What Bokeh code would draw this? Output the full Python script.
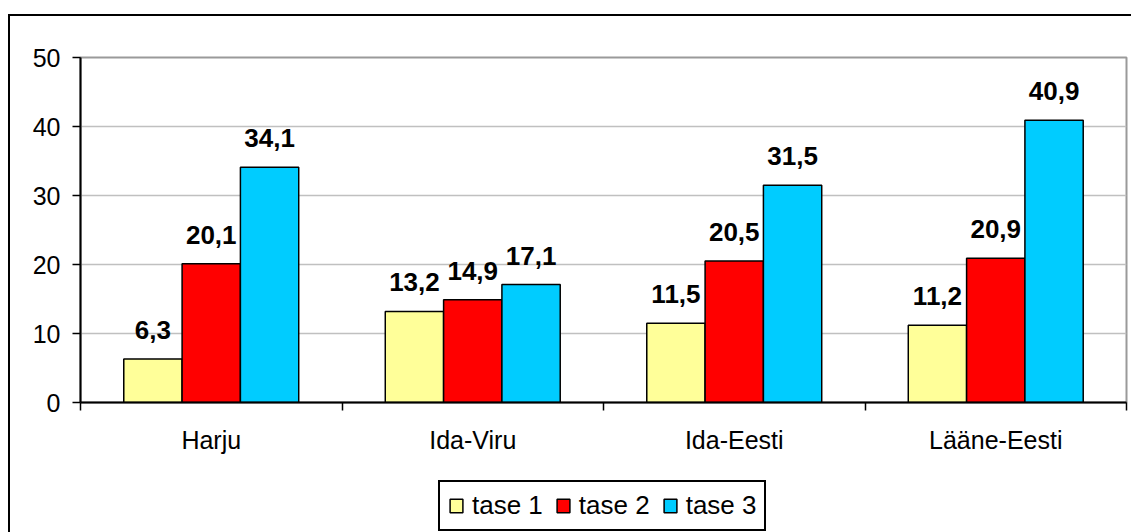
from bokeh.plotting import figure
from bokeh.layouts import column
from bokeh.models import Range1d, FixedTicker, Legend, LegendItem
from bokeh.embed import file_html
from bokeh.resources import INLINE
from bokeh.core.properties import value

categories = ["Harju", "Ida-Viru", "Ida-Eesti", "Lääne-Eesti"]
series_names = ["tase 1", "tase 2", "tase 3"]
tase1 = [6.3, 13.2, 11.5, 11.2]
tase2 = [20.1, 14.9, 20.5, 20.9]
tase3 = [34.1, 17.1, 31.5, 40.9]
series_values = [tase1, tase2, tase3]
colors = ["#FFFF99", "#FF0000", "#00CCFF"]
y_ticks = [0, 10, 20, 30, 40, 50]

FONT = "Liberation Sans"
bar_w = 0.223

# ---- main chart ----
p = figure(width=1121, height=444,
           x_range=Range1d(0, len(categories)), y_range=Range1d(0, 50),
           output_backend="svg", toolbar_location=None,
           min_border_left=70, min_border_right=5,
           min_border_top=41, min_border_bottom=58,
           background_fill_color="white", border_fill_color="white",
           outline_line_color="#9a9a9a", outline_line_width=2)

centers = [i + 0.5 for i in range(len(categories))]
bounds = list(range(len(categories) + 1))

for i, (name, vals, c) in enumerate(zip(series_names, series_values, colors)):
    xs = [cx + (i - 1) * bar_w for cx in centers]
    p.vbar(x=xs, top=vals, bottom=0, width=bar_w, fill_color=c,
           line_color="black", line_width=1.5)
    labels = [f"{v:.1f}".replace(".", ",") for v in vals]
    p.text(x=xs, y=vals, text=labels, text_align="center",
           text_baseline="alphabetic", y_offset=-29,
           text_font=value(FONT), text_font_style="bold",
           text_font_size="26px", text_color="black")

yax = p.yaxis[0]
yax.ticker = FixedTicker(ticks=y_ticks)
yax.major_tick_out = 8
yax.major_tick_in = 0
yax.minor_tick_line_color = None
yax.axis_line_width = 2
yax.axis_line_color = "black"
yax.major_tick_line_width = 1.5
yax.major_tick_line_color = "black"
yax.major_label_text_font = FONT
yax.major_label_text_font_size = "25px"
yax.major_label_text_color = "black"
yax.major_label_standoff = 12

xax = p.xaxis[0]
xax.ticker = FixedTicker(ticks=centers, minor_ticks=bounds)
xax.major_label_overrides = {c: lab for c, lab in zip(centers, categories)}
xax.major_tick_line_color = None
xax.major_tick_out = 0
xax.major_tick_in = 0
xax.minor_tick_out = 8
xax.minor_tick_in = 0
xax.minor_tick_line_color = "black"
xax.minor_tick_line_width = 1.5
xax.axis_line_width = 2
xax.axis_line_color = "black"
xax.major_label_text_font = FONT
xax.major_label_text_font_size = "25px"
xax.major_label_text_color = "black"
xax.major_label_standoff = 15

p.xgrid.visible = False
p.ygrid.grid_line_color = "#c0c0c0"
p.ygrid.grid_line_width = 1.5

# ---- legend strip ----
lg = figure(width=1121, height=72, x_range=Range1d(0, 1), y_range=Range1d(0, 1),
            output_backend="svg", toolbar_location=None,
            x_axis_location=None, y_axis_location=None,
            min_border=0, outline_line_color=None,
            background_fill_color="white", border_fill_color="white")
lg.grid.visible = False
items = []
for name, c in zip(series_names, colors):
    # zero-height swatch source, hidden behind the opaque legend box
    r = lg.vbar(x=[0.5], top=[0.5], bottom=[0.5], width=0.01, fill_color=c,
                line_color="black", line_width=1.5)
    items.append(LegendItem(label=name, renderers=[r]))
legend = Legend(items=items, orientation="horizontal", location=(358, 1),
                label_text_font=FONT, label_text_font_size="26px",
                label_text_color="black", label_height=30,
                glyph_width=16, glyph_height=17, label_standoff=8,
                spacing=12, padding=8, margin=0,
                border_line_color="black", border_line_width=2,
                border_line_alpha=1,
                background_fill_color="white", background_fill_alpha=1)
lg.add_layout(legend)

layout = column(p, lg, spacing=0,
                styles={"border-left": "2px solid black",
                        "border-top": "2px solid black",
                        "margin-left": "8px", "margin-top": "14px"})

open("out.html", "w").write(file_html(layout, INLINE))
